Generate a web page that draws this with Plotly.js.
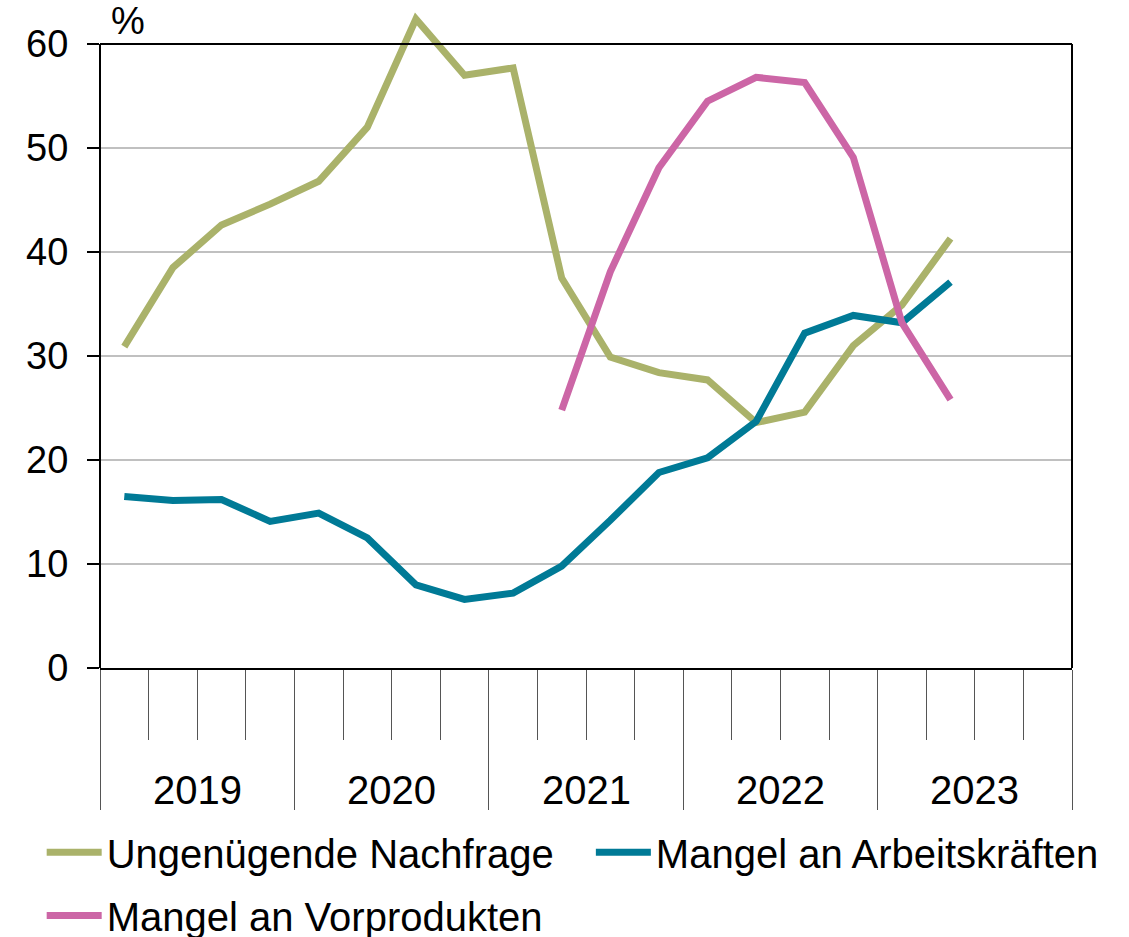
<!DOCTYPE html>
<html>
<head>
<meta charset="utf-8">
<script src="https://cdn.plot.ly/plotly-3.0.1.min.js"></script>
<style>
  body { margin: 0; background: #fff; }
  #chart { width: 1129px; height: 937px; }
</style>
</head>
<body>
<div id="chart"></div>
<script>
// quarterly survey shares, 2019 Q1 .. 2023 Q2
var years = ['2019', '2020', '2021', '2022', '2023'];
var nachfrage = [30.9, 38.5, 42.6, 44.6, 46.8, 52.0, 62.4, 57.0, 57.7, 37.5, 29.9, 28.4, 27.7, 23.6, 24.6, 31.0, 34.9, 41.3];
var arbeit = [16.5, 16.1, 16.2, 14.1, 14.9, 12.5, 8.0, 6.6, 7.2, 9.8, 14.2, 18.8, 20.2, 23.7, 32.2, 33.9, 33.2, 37.1];
// Vorprodukte starts in 2021 Q2 (quarter index 9)
var vorprodukte = [24.8, 38.1, 48.1, 54.5, 56.8, 56.3, 49.1, 33.2, 25.8];
var vorproStart = 9;
var yTop = 60;

function qx(arr, start) {
    return arr.map(function (v, i) { return start + i + 0.5; });
}

var font = { family: 'Liberation Sans, Arial, sans-serif', size: 40, color: '#000' };
var tickFont = { family: 'Liberation Sans, Arial, sans-serif', size: 38, color: '#000' };

var data = [
    { mode: 'lines', x: qx(nachfrage, 0), y: nachfrage, name: 'Ungenügende Nachfrage', legend: 'legend',
      line: { color: '#AAB26A', width: 7 } },
    { mode: 'lines', x: qx(arbeit, 0), y: arbeit, name: 'Mangel an Arbeitskräften', legend: 'legend2',
      line: { color: '#007A96', width: 7 } },
    { mode: 'lines', x: qx(vorprodukte, vorproStart), y: vorprodukte, name: 'Mangel an Vorprodukten', legend: 'legend3',
      line: { color: '#CC66A6', width: 7 } }
];

var annotations = years.map(function (yr, i) {
    return { x: i * 4 + 2, xref: 'x', y: -0.1827, yref: 'paper', text: yr, showarrow: false,
             font: font, xanchor: 'center', yanchor: 'middle' };
});
annotations.push({ x: 0.009, xref: 'paper', y: yTop, yref: 'y', text: '%', showarrow: false,
                   font: tickFont, xanchor: 'left', yanchor: 'bottom', yshift: 0 });

// frame: top and right border stop at 60, left axis line too
var frame = [
    { type: 'line', xref: 'paper', yref: 'y', x0: 0, x1: 1, y0: yTop, y1: yTop, line: { color: '#000', width: 2 } },
    { type: 'line', xref: 'paper', yref: 'y', x0: 1, x1: 1, y0: 0, y1: yTop, line: { color: '#000', width: 2 } },
    { type: 'line', xref: 'paper', yref: 'y', x0: 0, x1: 0, y0: 0, y1: yTop, line: { color: '#000', width: 2 } }
];

function legendAt(x, y) {
    return { x: x, xanchor: 'left', y: y, yanchor: 'top', font: font, itemwidth: 55,
             bgcolor: 'rgba(0,0,0,0)', borderwidth: 0 };
}

var layout = {
    width: 1129,
    height: 937,
    margin: { l: 100, r: 57, t: 2, b: 269, autoexpand: false },
    paper_bgcolor: '#fff',
    plot_bgcolor: '#fff',
    font: font,
    showlegend: true,
    legend: legendAt(-0.06, -0.228),
    legend2: legendAt(0.505, -0.228),
    legend3: legendAt(-0.06, -0.323),
    xaxis: {
        range: [0, 20], tickmode: 'linear', tick0: 0, dtick: 4,
        ticks: 'outside', ticklen: 140, tickwidth: 1, tickcolor: '#555',
        showticklabels: false, showgrid: false, zeroline: false,
        showline: true, linecolor: '#000', linewidth: 2,
        minor: { tickmode: 'linear', tick0: 0, dtick: 1, ticks: 'outside', ticklen: 70, tickwidth: 1, tickcolor: '#555', showgrid: false }
    },
    yaxis: {
        range: [0, 666 / 10.4], tickmode: 'linear', tick0: 0, dtick: 10,
        ticks: 'outside', ticklen: 12, tickwidth: 1.5, tickcolor: '#000',
        showgrid: true, gridcolor: '#C0C0C0', gridwidth: 1.5, zeroline: false,
        showline: false,
        tickfont: tickFont, ticklabelstandoff: 11
    },
    shapes: frame,
    annotations: annotations
};

Plotly.newPlot('chart', data, layout, { displayModeBar: false, staticPlot: true });
</script>
</body>
</html>
